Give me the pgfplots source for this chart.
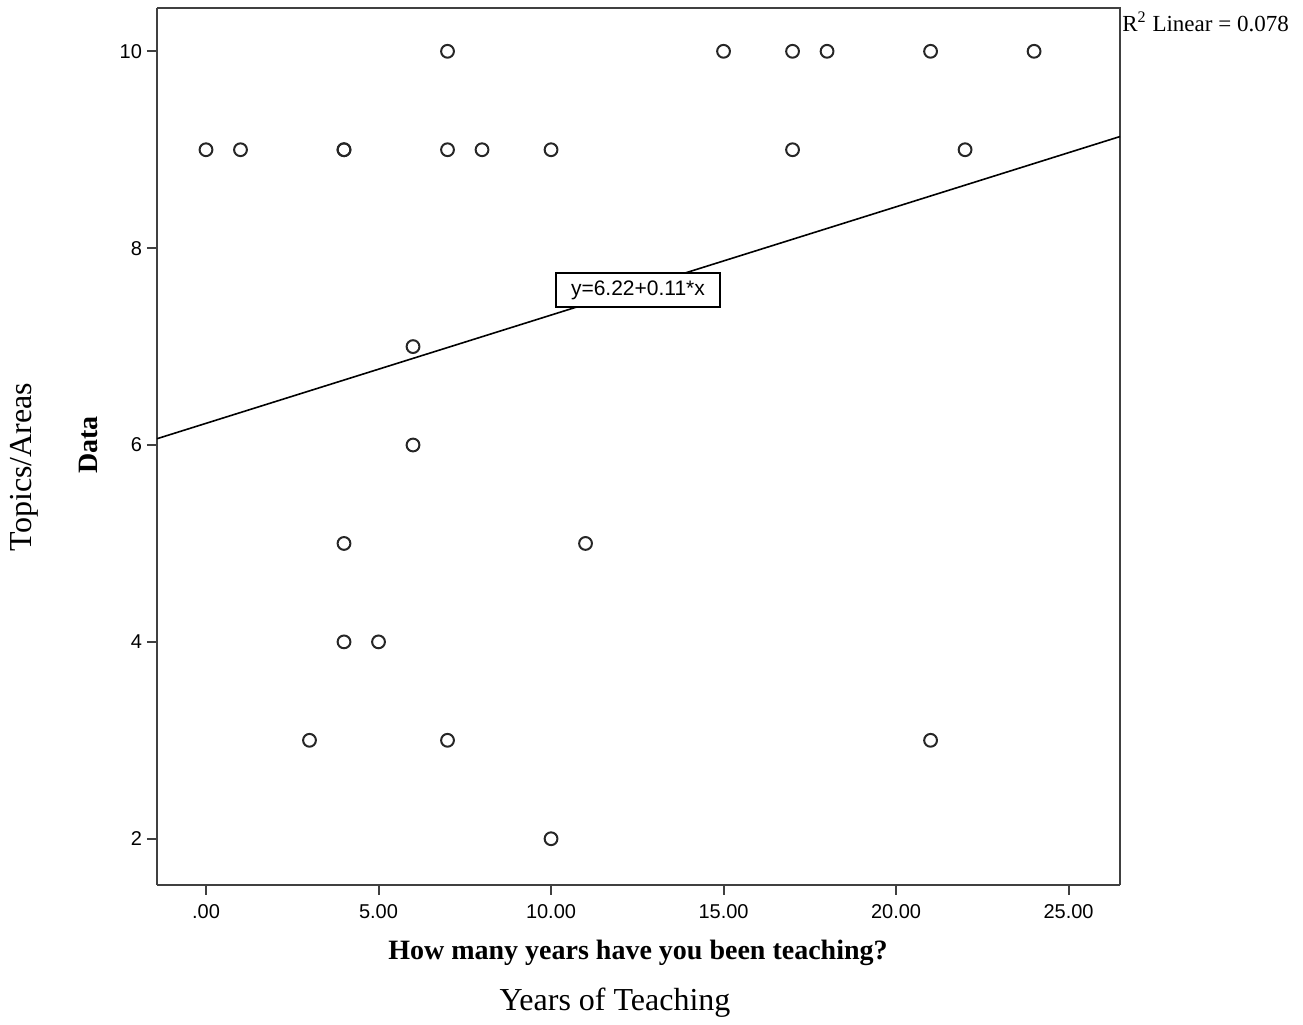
\documentclass[border=0pt]{standalone}
\usepackage{fontspec}
\setmainfont{Liberation Serif}
\newfontfamily\sansf{Liberation Sans}
\usepackage{pgfplots}
\pgfplotsset{compat=1.18}
\begin{document}
\begin{tikzpicture}
\begin{axis}[
  at={(0,0)}, anchor=south west,
  scale only axis, width=481.5pt, height=438.5pt,
  xmin=-1.42, xmax=26.49, ymin=1.53, ymax=10.44,
  xtick={0,5,10,15,20,25},
  xticklabels={.00,5.00,10.00,15.00,20.00,25.00},
  ytick={2,4,6,8,10},
  axis x line*=bottom, axis y line*=left,
  axis line style={line width=1pt, draw=black!75},
  every outer x axis line/.append style={-},
  every outer y axis line/.append style={-},
  tick align=outside, major tick length=5pt,
  tick style={line width=1pt, black!75},
  /pgf/number format/assume math mode=true,
  ticklabel style={font=\sansf\fontsize{10}{12}\selectfont},
  xticklabel style={yshift=-1pt},
  yticklabel style={xshift=1pt},
  clip=false,
]
\draw[line width=1pt, black!75] (rel axis cs:0,1) -- (rel axis cs:1,1) -- (rel axis cs:1,0);
\addplot[black, line width=0.8pt] coordinates {(-1.42,6.064) (26.49,9.134)};
\addplot[only marks, mark=o, mark size=3.2pt, mark options={line width=1pt, draw=black!85}] coordinates {
(0,9) (1,9) (4,9) (4,9) (7,10) (7,9) (8,9) (10,9) (15,10) (17,10) (18,10) (21,10) (24,10)
(17,9) (22,9) (6,7) (6,6) (4,5) (11,5) (4,4) (5,4) (3,3) (7,3) (21,3) (10,2)
};
\node[draw=black, line width=0.8pt, fill=white, inner sep=2pt, font=\sansf\fontsize{10.5}{12}\selectfont, minimum width=82pt, minimum height=17pt] at (axis cs:12.52,7.574) {y=6.22+0.11*x};
\end{axis}
\node[anchor=west, font=\fontsize{11.5}{13}\selectfont, inner sep=1pt] at (481.5pt,431.5pt) {R\textsuperscript{2} Linear = 0.078};
\node[font=\bfseries\fontsize{14}{16}\selectfont] at (240.5pt,-34pt) {How many years have you been teaching?};
\node[font=\fontsize{16}{18}\selectfont] at (229pt,-59pt) {Years of Teaching};
\node[font=\bfseries\fontsize{14}{16}\selectfont, rotate=90] at (-34.5pt,220pt) {Data};
\node[font=\fontsize{16}{18}\selectfont, rotate=90] at (-66.5pt,209pt) {Topics/Areas};
\useasboundingbox (-78.5pt,-69.5pt) rectangle (573pt,442.5pt);
\end{tikzpicture}
\end{document}
